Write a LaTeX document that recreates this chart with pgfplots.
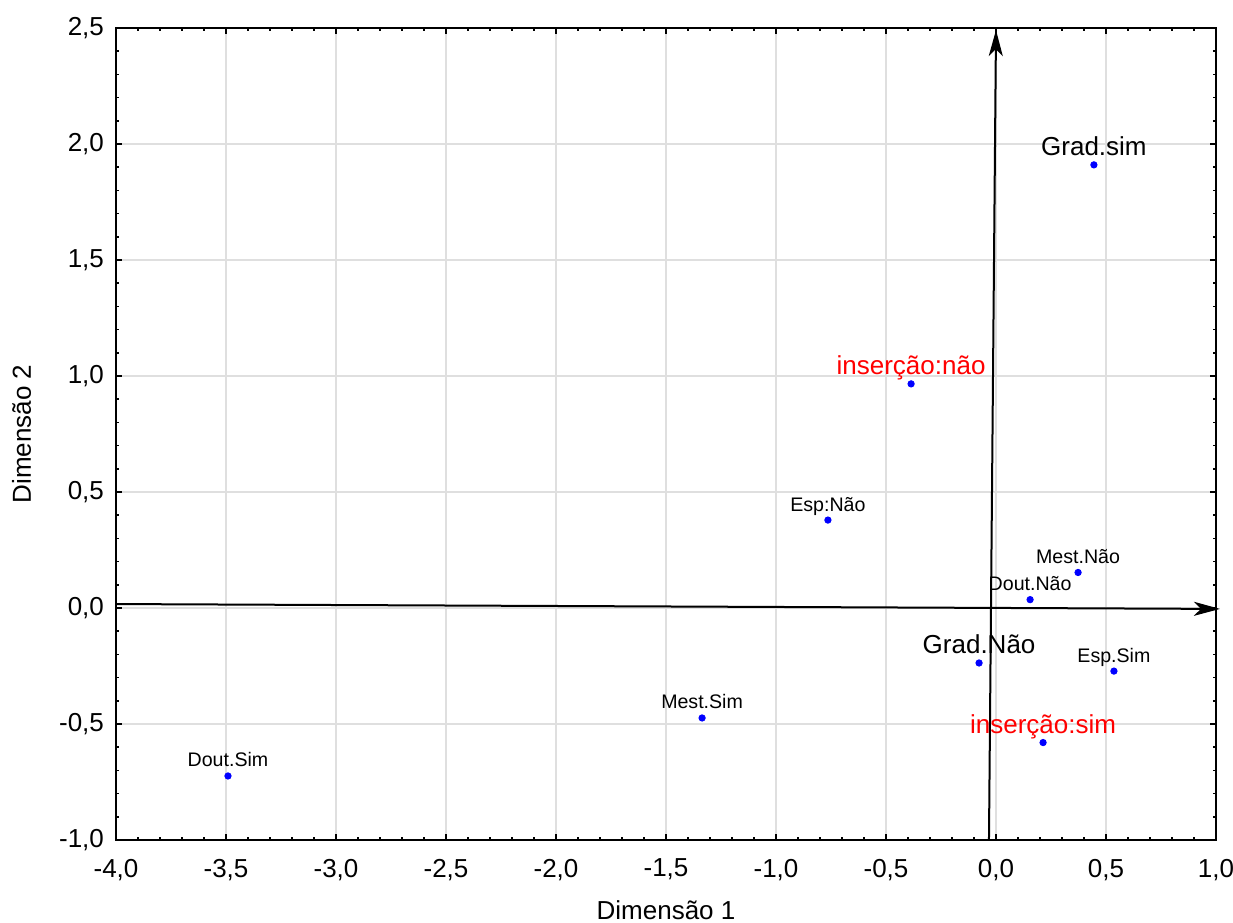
\documentclass[border=0pt]{standalone}
\usepackage{fontspec}
\setmainfont{Liberation Sans}
\usepackage{pgfplots}
\pgfplotsset{compat=1.18}
\usetikzlibrary{arrows.meta}
\begin{document}
\begin{tikzpicture}
\begin{axis}[
  scale only axis, width=550pt, height=406pt,
  xmin=-4, xmax=1, ymin=-1, ymax=2.5,
  xtick={-4,-3.5,...,1.01}, ytick={-1,-0.5,...,2.51},
  minor x tick num=4, minor y tick num=4,
  tick align=inside,
  major tick length=3pt, minor tick length=1.3pt,
  every tick/.style={black, line width=0.8pt},
  axis line style={line width=1.2pt},
  grid=major, major grid style={gray!25, line width=0.6pt},
  clip=false,
  ticklabel style={font=\fontsize{13}{15}\selectfont},
  /pgf/number format/.cd, use comma, fixed, fixed zerofill, precision=1, assume math mode=true,
  /pgfplots/.cd,
  xticklabel style={yshift=-6pt},
  yticklabel style={xshift=-2.5pt},
  xlabel={Dimensão 1}, ylabel={Dimensão 2},
  label style={font=\fontsize{13}{15}\selectfont},
  xlabel style={at={(axis description cs:0.5,-0.0973)}, anchor=base},
  ylabel style={at={(axis description cs:-0.0773,0.5)}, anchor=base, rotate=0},
]
\coordinate (sw) at (rel axis cs:0,0);
\coordinate (ne) at (rel axis cs:1,1);
% axes arrows
\addplot[black, line width=1pt, -{Stealth[length=13pt,width=7pt,inset=3.5pt]}] coordinates {(-4,0.017) (1.018,-0.004)};
\addplot[black, line width=1pt, -{Stealth[length=13pt,width=7pt,inset=3.5pt]}] coordinates {(-0.032,-1) (0.0,2.491)};
% points
\addplot[only marks, mark=*, blue, mark size=1.6pt] coordinates {
 (0.445,1.91) (-0.386,0.966) (-0.764,0.379) (0.373,0.153) (0.155,0.036)
 (-0.077,-0.237) (0.536,-0.272) (0.214,-0.580) (-1.336,-0.474) (-3.491,-0.724)
};
\tikzset{lbs/.style={anchor=base, yshift=4.5pt, inner sep=0pt, font=\fontsize{9.8}{11}\selectfont},
         lbl/.style={anchor=base, yshift=4.5pt, inner sep=0pt, font=\fontsize{13}{15}\selectfont}}
\node[lbl] at (axis cs:0.445,1.91) {Grad.sim};
\node[lbl, red] at (axis cs:-0.386,0.966) {inserção:não};
\node[lbs] at (axis cs:-0.764,0.379) {Esp:Não};
\node[lbs] at (axis cs:0.373,0.153) {Mest.Não};
\node[lbs] at (axis cs:0.155,0.036) {Dout.Não};
\node[lbl] at (axis cs:-0.077,-0.237) {Grad.Não};
\node[lbs] at (axis cs:0.536,-0.272) {Esp.Sim};
\node[lbl, red] at (axis cs:0.214,-0.580) {inserção:sim};
\node[lbs] at (axis cs:-1.336,-0.474) {Mest.Sim};
\node[lbs] at (axis cs:-3.491,-0.724) {Dout.Sim};
\end{axis}
\pgfresetboundingbox
\path[use as bounding box] ([xshift=-58pt,yshift=-41.5pt]sw) rectangle ([xshift=8.5pt,yshift=14pt]ne);
\end{tikzpicture}
\end{document}
